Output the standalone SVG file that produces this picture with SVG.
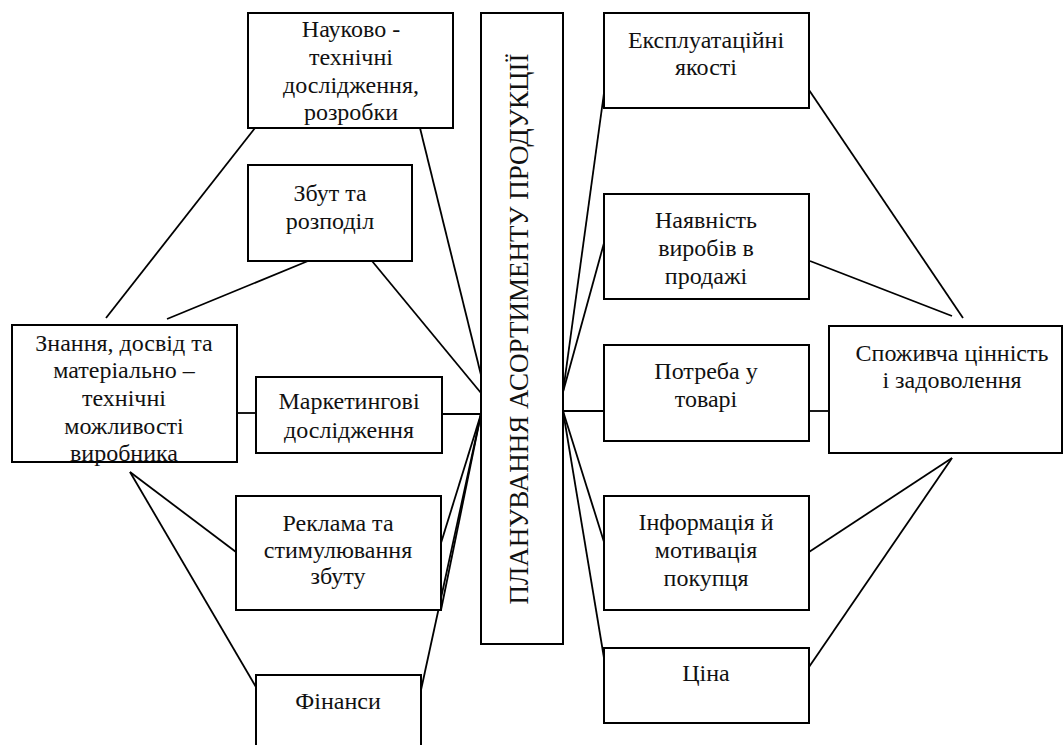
<svg xmlns="http://www.w3.org/2000/svg" width="1064" height="745" viewBox="0 0 1064 745">
<style>
.b{fill:#fff;stroke:#000;stroke-width:2}
.c{fill:none;stroke:#000;stroke-width:1.8}
</style>
<rect width="1064" height="745" fill="#fff"/>
<g id="connectors">
<line class="c" x1="255" y1="128" x2="106" y2="318"/>
<line class="c" x1="308" y1="261" x2="167" y2="319"/>
<line class="c" x1="420" y1="128" x2="481" y2="375"/>
<line class="c" x1="372" y1="261" x2="481" y2="393"/>
<line class="c" x1="237" y1="413" x2="256" y2="413"/>
<line class="c" x1="442" y1="414" x2="481" y2="414"/>
<line class="c" x1="130" y1="472" x2="236" y2="552"/>
<line class="c" x1="130" y1="472" x2="256" y2="687"/>
<line class="c" x1="481" y1="414" x2="441" y2="543"/>
<line class="c" x1="481" y1="414" x2="441" y2="610"/>
<line class="c" x1="481" y1="414" x2="421" y2="690"/>
<line class="c" x1="563" y1="392" x2="604" y2="93"/>
<line class="c" x1="563" y1="392" x2="604" y2="243"/>
<line class="c" x1="563" y1="411" x2="604" y2="411"/>
<line class="c" x1="563" y1="411" x2="604" y2="542"/>
<line class="c" x1="563" y1="411" x2="604" y2="658"/>
<line class="c" x1="809" y1="90" x2="963" y2="318"/>
<line class="c" x1="810" y1="261" x2="952" y2="316"/>
<line class="c" x1="809" y1="411" x2="829" y2="411"/>
<line class="c" x1="809" y1="552" x2="952" y2="458"/>
<line class="c" x1="809" y1="667" x2="952" y2="458"/>
</g>
<g font-family="Liberation Serif, Times New Roman, serif" font-size="24" fill="#111" text-anchor="middle">
<g id="n-nauk"><rect class="b" x="248" y="13" width="205" height="115"/>
<text x="351" y="37">Науково -</text><text x="351" y="65">технічні</text><text x="351" y="93">дослідження,</text><text x="351" y="120">розробки</text></g>
<g id="n-zbut"><rect class="b" x="248" y="165" width="164" height="96"/>
<text x="330" y="201">Збут та</text><text x="330" y="229">розподіл</text></g>
<g id="n-znannia"><rect class="b" x="12" y="325" width="225" height="137"/>
<text x="124" y="351">Знання, досвід та</text><text x="124" y="378">матеріально –</text><text x="124" y="406">технічні</text><text x="124" y="434">можливості</text><text x="124" y="461">виробника</text></g>
<g id="n-market"><rect class="b" x="256" y="377" width="186" height="76"/>
<text x="349" y="409">Маркетингові</text><text x="349" y="438">дослідження</text></g>
<g id="n-reklama"><rect class="b" x="236" y="496" width="205" height="114"/>
<text x="338" y="531">Реклама та</text><text x="338" y="558">стимулювання</text><text x="338" y="584">збуту</text></g>
<g id="n-finansy"><rect class="b" x="256" y="675" width="165" height="90"/>
<text x="338" y="709">Фінанси</text></g>
<g id="n-center"><rect class="b" x="481" y="13" width="82" height="631"/>
<text font-size="27" transform="translate(528,329) rotate(-90)" x="0" y="0">ПЛАНУВАННЯ АСОРТИМЕНТУ ПРОДУКЦІЇ</text></g>
<g id="n-ekspl"><rect class="b" x="604" y="13" width="205" height="95"/>
<text x="706" y="48">Експлуатаційні</text><text x="706" y="75">якості</text></g>
<g id="n-naiavn"><rect class="b" x="604" y="194" width="205" height="105"/>
<text x="706" y="228">Наявність</text><text x="706" y="256">виробів в</text><text x="706" y="284">продажі</text></g>
<g id="n-potreba"><rect class="b" x="604" y="345" width="205" height="96"/>
<text x="706" y="379">Потреба у</text><text x="706" y="407">товарі</text></g>
<g id="n-info"><rect class="b" x="604" y="496" width="205" height="114"/>
<text x="706" y="530">Інформація й</text><text x="706" y="558">мотивація</text><text x="706" y="586">покупця</text></g>
<g id="n-tsina"><rect class="b" x="604" y="648" width="205" height="75"/>
<text x="706" y="681">Ціна</text></g>
<g id="n-spozh"><rect class="b" x="829" y="326" width="233" height="127"/>
<text x="952" y="361">Споживча цінність</text><text x="952" y="388">і задоволення</text></g>
</g>
</svg>
